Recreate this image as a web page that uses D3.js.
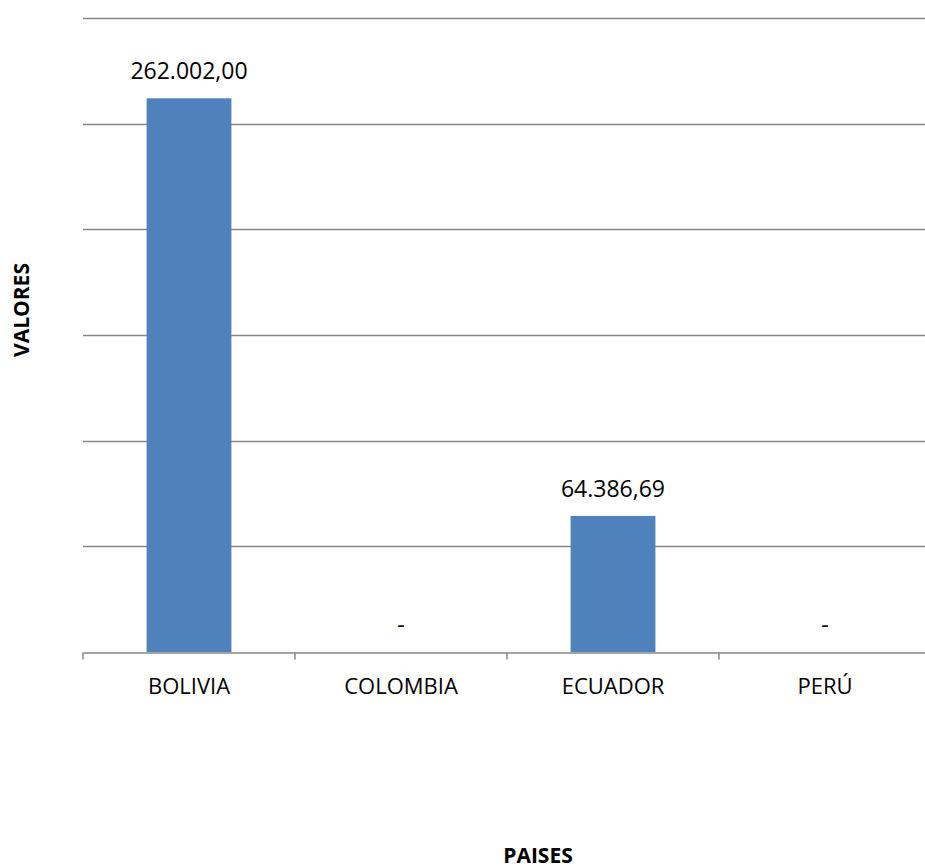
<!DOCTYPE html>
<html>
<head>
<meta charset="utf-8">
<script src="https://cdn.jsdelivr.net/npm/d3@7"></script>
<style>
  html, body { margin: 0; padding: 0; background: #fff; overflow: hidden; }
  svg { display: block; }
  text { font-family: "Open Sans", "Noto Sans", sans-serif; fill: #000; }
</style>
</head>
<body>
<svg id="chart" width="925" height="868"></svg>
<script>
// Valores por país
const paises = ["BOLIVIA", "COLOMBIA", "ECUADOR", "PERÚ"];
const valores = [262002.00, 0, 64386.69, 0];
const yTicks = [0, 50000, 100000, 150000, 200000, 250000, 300000];
const yTitle = "VALORES";
const xTitle = "PAISES";

const svg = d3.select("#chart");
const margin = { left: 83, right: -6, top: 18, bottom: 216 };
const W = 925, H = 868;
const x0 = margin.left, x1 = W - margin.right;
const yTop = margin.top, yBot = H - margin.bottom;

const x = d3.scaleBand().domain(paises).range([x0, x1]).paddingInner(0).paddingOuter(0);
const y = d3.scaleLinear().domain([0, 300000]).range([yBot, yTop]);

const es = d3.formatLocale({ decimal: ",", thousands: ".", grouping: [3], currency: ["", ""] });
const fmt = v => v === 0 ? "-" : es.format(",.2f")(v);

// Líneas de división horizontales
svg.append("g")
  .selectAll("line")
  .data(yTicks.filter(t => t > 0))
  .join("line")
  .attr("x1", x0).attr("x2", x1)
  .attr("y1", d => Math.round(y(d)) + 0.5).attr("y2", d => Math.round(y(d)) + 0.5)
  .attr("stroke", "#868686").attr("stroke-width", 1.5);

// Barras
const barW = x.bandwidth() * 0.4;
svg.append("g")
  .selectAll("rect")
  .data(paises.map((p, i) => ({ p, v: valores[i] })))
  .join("rect")
  .attr("x", d => x(d.p) + (x.bandwidth() - barW) / 2)
  .attr("width", barW)
  .attr("y", d => y(d.v))
  .attr("height", d => y(0) - y(d.v))
  .attr("fill", "#4f81bd");

// Eje de categorías
const xAxis = d3.axisBottom(x).tickSize(0).tickFormat(d => d);
const gx = svg.append("g").attr("transform", `translate(0,${Math.round(y(0)) + 0.5})`).call(xAxis);
gx.select(".domain").attr("stroke", "#868686").attr("stroke-width", 1.5);
gx.selectAll(".tick text").attr("dy", null).attr("y", 41)
  .style("font-size", "22px").style("font-family", "'Open Sans', sans-serif");
// Marcas entre categorías
const bounds = paises.map(p => x(p)).concat([x1]);
gx.selectAll("line.sep").data(bounds).join("line").attr("class", "sep")
  .attr("x1", d => d).attr("x2", d => d).attr("y1", 0).attr("y2", 7)
  .attr("stroke", "#868686").attr("stroke-width", 1.5);

// Etiquetas de datos
svg.append("g")
  .selectAll("text")
  .data(paises.map((p, i) => ({ p, v: valores[i] })))
  .join("text")
  .attr("x", d => x(d.p) + x.bandwidth() / 2)
  .attr("y", d => y(d.v) - 19)
  .attr("text-anchor", "middle")
  .style("font-size", "23px")
  .text(d => fmt(d.v));

// Títulos de ejes
svg.append("text")
  .attr("transform", "translate(29,310) rotate(-90)")
  .attr("text-anchor", "middle")
  .style("font-size", "21px").style("font-weight", "bold")
  .text(yTitle);

svg.append("text")
  .attr("x", 538).attr("y", 863)
  .attr("text-anchor", "middle")
  .style("font-size", "21px").style("font-weight", "bold")
  .text(xTitle);
</script>
</body>
</html>
